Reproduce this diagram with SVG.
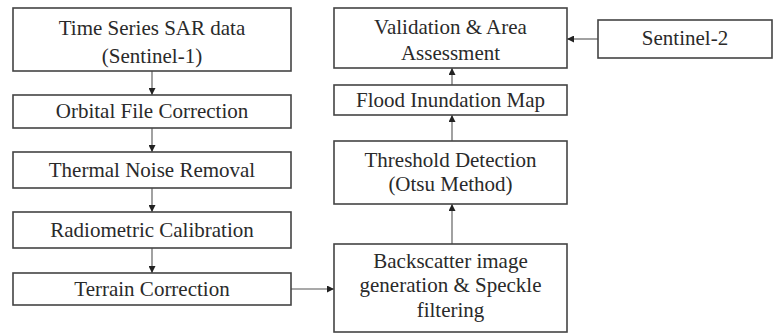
<svg xmlns="http://www.w3.org/2000/svg" width="773" height="333" viewBox="0 0 773 333">
<style>
.box{fill:#fff;stroke:#444;stroke-width:1.6}
.t{font-family:"Liberation Serif","Times New Roman",serif;font-size:21px;fill:#2a2a2a;text-anchor:middle}
.c{stroke:#555;stroke-width:1.1;fill:none;marker-end:url(#ah)}
</style>
<defs>
<marker id="ah" viewBox="0 0 10 10" refX="10" refY="5" markerWidth="7" markerHeight="7" markerUnits="userSpaceOnUse" orient="auto">
<path d="M0,0 L10,5 L0,10 Z" fill="#222"/>
</marker>
</defs>
<rect width="773" height="333" fill="#fff"/>
<g id="connectors">
<line class="c" x1="152" y1="71" x2="152" y2="95"/>
<line class="c" x1="152" y1="128" x2="152" y2="152"/>
<line class="c" x1="152" y1="188" x2="152" y2="212"/>
<line class="c" x1="152" y1="248" x2="152" y2="273"/>
<line class="c" x1="291" y1="289" x2="334" y2="289"/>
<line class="c" x1="452" y1="244" x2="452" y2="204"/>
<line class="c" x1="452" y1="141" x2="452" y2="115"/>
<line class="c" x1="452" y1="85" x2="452" y2="68"/>
<line class="c" x1="598" y1="39" x2="567" y2="39"/>
</g>
<g id="n1"><rect class="box" x="13" y="8" width="278" height="63"/><text class="t" x="152" y="35">Time Series SAR data</text><text class="t" x="152" y="63">(Sentinel-1)</text></g>
<g id="n2"><rect class="box" x="13" y="95" width="278" height="33"/><text class="t" x="152" y="118">Orbital File Correction</text></g>
<g id="n3"><rect class="box" x="13" y="152" width="278" height="36"/><text class="t" x="152" y="177">Thermal Noise Removal</text></g>
<g id="n4"><rect class="box" x="13" y="212" width="278" height="36"/><text class="t" x="152" y="237">Radiometric Calibration</text></g>
<g id="n5"><rect class="box" x="13" y="273" width="278" height="32"/><text class="t" x="152" y="296">Terrain Correction</text></g>
<g id="n6"><rect class="box" x="334" y="244" width="233" height="88"/><text class="t" x="450.5" y="268">Backscatter image</text><text class="t" x="450.5" y="292">generation &amp; Speckle</text><text class="t" x="450.5" y="317">filtering</text></g>
<g id="n7"><rect class="box" x="334" y="141" width="233" height="63"/><text class="t" x="450.5" y="167">Threshold Detection</text><text class="t" x="450.5" y="191">(Otsu Method)</text></g>
<g id="n8"><rect class="box" x="334" y="85" width="233" height="30"/><text class="t" x="450.5" y="107">Flood Inundation Map</text></g>
<g id="n9"><rect class="box" x="334" y="8" width="233" height="60"/><text class="t" x="450.5" y="34">Validation &amp; Area</text><text class="t" x="450.5" y="60">Assessment</text></g>
<g id="n10"><rect class="box" x="598" y="20" width="174" height="38"/><text class="t" x="685" y="45">Sentinel-2</text></g>
</svg>
